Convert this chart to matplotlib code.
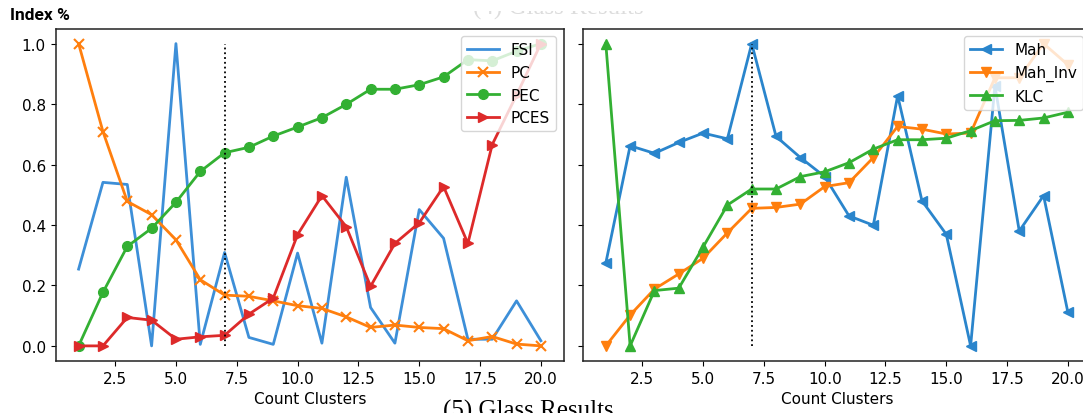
import matplotlib
matplotlib.use("Agg")
import matplotlib.pyplot as plt
from matplotlib.patches import Rectangle

x = list(range(1, 21))

fsi = [0.254, 0.541, 0.534, 0.0, 1.0, 0.005, 0.309, 0.028, 0.005, 0.307,
       0.009, 0.558, 0.127, 0.009, 0.451, 0.356, 0.022, 0.022, 0.149, 0.017]
pc = [1.0, 0.709, 0.478, 0.434, 0.351, 0.219, 0.168, 0.164, 0.149, 0.133,
      0.124, 0.096, 0.061, 0.069, 0.061, 0.057, 0.017, 0.031, 0.006, 0.0]
pec = [0.0, 0.177, 0.329, 0.389, 0.475, 0.577, 0.639, 0.657, 0.694, 0.724,
       0.755, 0.799, 0.849, 0.849, 0.864, 0.890, 0.947, 0.943, 0.975, 1.0]
pces = [0.0, 0.0, 0.094, 0.085, 0.022, 0.030, 0.035, 0.105, 0.158, 0.368,
        0.497, 0.394, 0.197, 0.339, 0.407, 0.527, 0.339, 0.666, 0.83, 1.0]

mah = [0.274, 0.662, 0.637, 0.673, 0.704, 0.685, 1.0, 0.693, 0.623, 0.560,
       0.430, 0.399, 0.828, 0.480, 0.369, 0.0, 0.86, 0.380, 0.497, 0.111]
mah_inv = [0.0, 0.102, 0.188, 0.238, 0.290, 0.374, 0.455, 0.458, 0.469, 0.527,
           0.540, 0.623, 0.726, 0.717, 0.701, 0.704, 0.887, 0.887, 1.0, 0.93]
klc = [1.0, 0.0, 0.183, 0.191, 0.327, 0.466, 0.519, 0.519, 0.560, 0.576,
       0.606, 0.651, 0.682, 0.682, 0.687, 0.712, 0.745, 0.746, 0.754, 0.773]

best_k = 7

W, H = 1083, 414
fig = plt.figure(figsize=(W / 100, H / 100), dpi=100)

def px_axes(l, r, t, b):
    return [l / W, (H - b) / H, (r - l) / W, (b - t) / H]

ax1 = fig.add_axes(px_axes(55.5, 564, 29.5, 362))
ax2 = fig.add_axes(px_axes(582.7, 1091, 29.5, 362), sharey=ax1)

c_orange = "#ff7f0e"
lw = 2.0
ms = 7

ax1.plot(x, fsi, color="#3d8fd8", lw=lw, label="FSI")
ax1.plot(x, pc, color=c_orange, lw=lw, marker="x", ms=ms, mew=1.5, label="PC")
ax1.plot(x, pec, color="#33b033", lw=lw, marker="o", ms=ms, label="PEC")
ax1.plot(x, pces, color="#dd2a2a", lw=lw, marker=">", ms=ms, label="PCES")
ax1.vlines(best_k, 0, 1, colors="k", linestyles="dotted", lw=1.3)
ax1.legend(loc="upper right", fontsize=11, handlelength=2.1)

ax2.plot(x, mah, color="#2a85cc", lw=lw, marker="<", ms=ms, label="Mah")
ax2.plot(x, mah_inv, color=c_orange, lw=lw, marker="v", ms=ms, label="Mah_Inv")
ax2.plot(x, klc, color="#33b033", lw=lw, marker="^", ms=ms, label="KLC")
ax2.vlines(best_k, 0, 1, colors="k", linestyles="dotted", lw=1.3)
ax2.legend(loc="upper right", fontsize=11, handlelength=2.1)
plt.setp(ax2.get_yticklabels(), visible=False)

for ax in (ax1, ax2):
    ax.set_xlabel("Count Clusters", fontsize=11, labelpad=4)
    ax.tick_params(labelsize=11)
    for s in ax.spines.values():
        s.set_color("#222222")
        s.set_linewidth(1.1)

ax1.set_ylim(-0.05, 1.05)
ax1.set_yticks([0.0, 0.2, 0.4, 0.6, 0.8, 1.0])

fig.text(10 / W, (H - 19.5) / H, "Index %", fontsize=12.5, fontweight=600,
         family="Roboto", va="baseline", ha="left")
fig.text(443 / W, (H - 418) / H, "(5) Glass Results", fontsize=18,
         family="Liberation Serif", va="baseline", ha="left")
fig.text(558 / W, (H - 15) / H, "(4) Glass Results", fontsize=18,
         family="Liberation Serif", va="baseline", ha="center", color="#dddddd",
         zorder=1)
cover = Rectangle((420 / W, (H - 11.5) / H), 300 / W, 12 / H,
                  transform=fig.transFigure, facecolor="white",
                  edgecolor="none", zorder=20)
fig.add_artist(cover)

fig.savefig("out.png", dpi=100)
